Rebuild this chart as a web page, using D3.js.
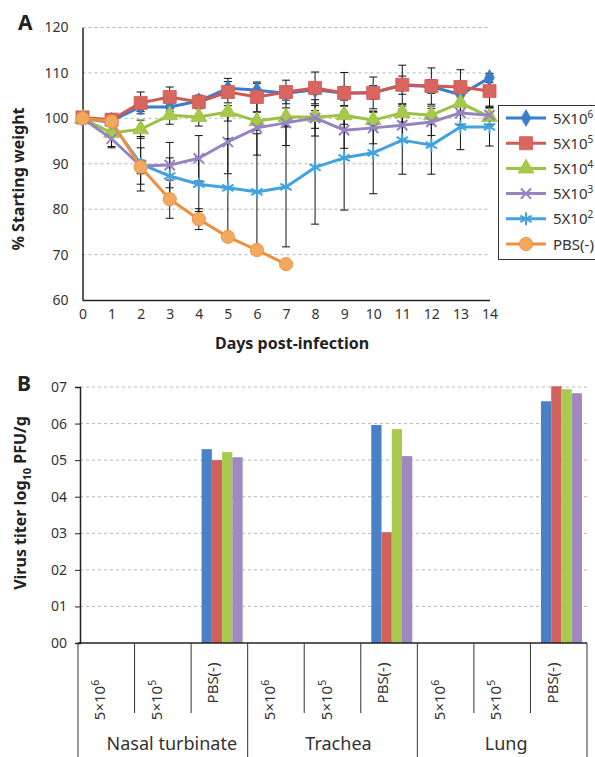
<!DOCTYPE html>
<html><head><meta charset="utf-8">
<script src="https://cdn.jsdelivr.net/npm/d3@7"></script>
<style>
html,body{margin:0;padding:0;background:#fff;}
svg{display:block;font-family:"Noto Sans","Open Sans",sans-serif;}
</style></head>
<body>
<svg id="c" width="595" height="757"></svg>
<script>
// ---------- Panel A data ----------
const days = [0,1,2,3,4,5,6,7,8,9,10,11,12,13,14];
const seriesNames = ["5X10","5X10","5X10","5X10","5X10","PBS(-)"];
const seriesExp = ["6","5","4","3","2",""];
const w5e6 = [100,99.5,102.5,102.5,103.8,106.6,106.2,105.5,106.3,105.5,105.7,107.3,107.0,105.2,108.9];
const w5e5 = [100.2,99.7,103.4,104.7,103.6,105.8,104.7,105.8,106.7,105.6,105.6,107.4,107.1,106.9,106.0];
const w5e4 = [100,96.8,97.6,100.7,100.3,101.4,99.4,100.3,100.3,100.7,99.6,101.2,100.7,103.4,100.3];
const w5e3 = [100,95.5,89.5,89.7,91.2,94.8,97.9,99.0,100.1,97.4,97.9,98.5,99.2,101.2,100.7];
const w5e2 = [100,99.0,90.0,87.3,85.5,84.7,83.8,84.9,89.2,91.3,92.4,95.2,94.1,98.1,98.1];
const wPBS = [100,99.3,89.3,82.2,77.8,73.9,71.0,67.9];
const e5e6 = [0.5,1,1,1,1,1.5,1.5,1,1,1.5,1.5,2,1.5,1.5,1];
const e5e5 = [0.5,1,2.4,2.2,1.5,3,3.3,2.6,3.5,4.5,3.5,4.3,4,3.8,3.5];
const e5e4 = [0,3,2,2,2,2,2,2,2.5,2,2,2,2,2,2];
const e5e3 = [0,2,4,5,5,7,6,5,4,4,3.5,3.5,3,2.5,2];
const e5e2 = [0,2,6,4,6,10.8,12.8,13.2,12.5,11.5,9,7.5,6.4,5,4.2];
const ePBS = [0,1,1.5,4.2,2.3,0,0,0];
const yTicksA = [60,70,80,90,100,110,120];

// ---------- Panel B data ----------
const tissues = ["Nasal turbinate","Trachea","Lung"];
const groupBase = ["5×10","5×10","PBS(-)"];
const groupExp = ["6","5",""];
const barSeries = ["5X10^6","5X10^5","5X10^4","5X10^3"];
const nasalPBS = [5.30,5.00,5.22,5.08];
const tracheaPBS = [5.96,3.03,5.85,5.11];
const lungPBS = [6.61,7.02,6.94,6.83];
const yTicksB = [0,1,2,3,4,5,6,7];

// ---------- styles ----------
const lineCols = ["#3b7dc8","#cf5a55","#9cc244","#9683c2","#43a3dc","#ef8f3c"];
const markFill = ["#3b7dc8","#d9665e","#a6c94c","#9683c2","#43a3dc","#f2a85e"];
const symTypes = [d3.symbolDiamond,d3.symbolSquare,d3.symbolTriangle,d3.symbolX,d3.symbolAsterisk,d3.symbolCircle];
const symSizes = [80,170,110,70,120,140];
const barCols = ["#4a80c6","#d0615b","#a9c94f","#9e89c1"];

const svg = d3.select("#c");

// ================= Panel A =================
const xA = d3.scaleLinear().domain([0,14]).range([82.5,489.5]);
const yA = d3.scaleLinear().domain([60,120]).range([300,27.5]);
const gA = svg.append("g");

gA.selectAll("line.grid").data(yTicksA.filter(d=>d>60)).join("line")
  .attr("x1",xA(0)).attr("x2",xA(14)).attr("y1",d=>yA(d)).attr("y2",d=>yA(d))
  .attr("stroke","#b8b8b8").attr("stroke-width",1).attr("stroke-dasharray","3,3");

const axYA = d3.axisLeft(yA).tickValues(yTicksA).tickSize(0).tickPadding(14);
gA.append("g").attr("transform",`translate(${xA(0)},0)`).call(axYA)
  .call(g=>g.select(".domain").attr("stroke","#222").attr("stroke-width",1.5))
  .call(g=>g.selectAll("text").attr("font-size",14).attr("fill","#333").attr("font-family","Noto Sans"));
const axXA = d3.axisBottom(xA).tickValues(days).tickSize(0).tickPadding(9).tickFormat(d3.format("d"));
gA.append("g").attr("transform",`translate(0,${yA(60)})`).call(axXA)
  .call(g=>g.select(".domain").attr("stroke","#222").attr("stroke-width",1.5))
  .call(g=>g.selectAll("text").attr("font-size",14).attr("fill","#333").attr("font-family","Noto Sans"));

const seriesVals = [w5e6,w5e5,w5e4,w5e3,w5e2,wPBS];
const seriesErr = [e5e6,e5e5,e5e4,e5e3,e5e2,ePBS];

// error bars
seriesVals.forEach((vals,si)=>{
  const errs = seriesErr[si];
  const g = gA.append("g").attr("stroke","#111").attr("stroke-width",1);
  vals.forEach((v,i)=>{
    const e = errs[i]; if(!e) return;
    const x = xA(days[i]);
    g.append("line").attr("x1",x).attr("x2",x).attr("y1",yA(v-e)).attr("y2",yA(v+e));
    g.append("line").attr("x1",x-4).attr("x2",x+4).attr("y1",yA(v-e)).attr("y2",yA(v-e));
    g.append("line").attr("x1",x-4).attr("x2",x+4).attr("y1",yA(v+e)).attr("y2",yA(v+e));
  });
});

function drawMarker(sel, si){
  const p = d3.symbol().type(symTypes[si]).size(symSizes[si])();
  const stroked = (si===3 || si===4);
  sel.append("path").attr("d",p)
    .attr("fill", stroked ? "none" : markFill[si])
    .attr("stroke", lineCols[si])
    .attr("stroke-width", stroked ? 2 : 1)
    .attr("stroke-opacity", stroked?1:0.8);
}

const line = d3.line().x((d,i)=>xA(days[i])).y(d=>yA(d));
seriesVals.forEach((vals,si)=>{
  gA.append("path").attr("d",line(vals)).attr("fill","none")
    .attr("stroke",lineCols[si]).attr("stroke-width",3).attr("stroke-linejoin","round");
  vals.forEach((v,i)=>{
    const m = gA.append("g").attr("transform",`translate(${xA(days[i])},${yA(v)})`);
    drawMarker(m,si);
  });
});

// legend
const leg = svg.append("g");
leg.append("rect").attr("x",498.5).attr("y",105.5).attr("width",110).attr("height",154)
  .attr("fill","#fff").attr("stroke","#333").attr("stroke-width",1);
seriesNames.forEach((n,si)=>{
  const y = 118 + si*25.2;
  leg.append("line").attr("x1",506).attr("x2",546).attr("y1",y).attr("y2",y)
    .attr("stroke",lineCols[si]).attr("stroke-width",3);
  drawMarker(leg.append("g").attr("transform",`translate(526,${y})`),si);
  const t = leg.append("text").attr("x",553).attr("y",y+5.5).attr("font-size",15).attr("fill","#333");
  t.append("tspan").text(n);
  if(seriesExp[si]) t.append("tspan").attr("dy",-6).attr("font-size",10).text(seriesExp[si]);
});

svg.append("text").attr("x",18).attr("y",30).attr("font-size",21).attr("font-weight","bold")
  .attr("fill","#222").text("A");
svg.append("text").attr("transform","translate(24,179) rotate(-90)").attr("text-anchor","middle")
  .attr("font-size",16).attr("font-weight","bold").attr("fill","#222").text("% Starting weight");
svg.append("text").attr("x",292).attr("y",349).attr("text-anchor","middle")
  .attr("font-size",16).attr("font-weight","bold").attr("fill","#222").text("Days post-infection");

// ================= Panel B =================
const cats = [];
tissues.forEach(t=>groupBase.forEach((g,gi)=>cats.push(t+"|"+gi)));
const xB = d3.scaleBand().domain(cats).range([78,587]).paddingInner(0).paddingOuter(0);
const yB = d3.scaleLinear().domain([0,7]).range([643,387]);
const gB = svg.append("g");

gB.selectAll("line.grid").data(yTicksB.filter(d=>d>0)).join("line")
  .attr("x1",80).attr("x2",587).attr("y1",d=>yB(d)).attr("y2",d=>yB(d))
  .attr("stroke","#b8b8b8").attr("stroke-width",1).attr("stroke-dasharray","3,3");

const axYB = d3.axisLeft(yB).tickValues(yTicksB).tickSize(5).tickPadding(8).tickFormat(d3.format("02d"));
gB.append("g").attr("transform","translate(80,0)").call(axYB)
  .call(g=>g.select(".domain").attr("stroke","#222").attr("stroke-width",1.5))
  .call(g=>g.selectAll(".tick line").attr("stroke","#222"))
  .call(g=>g.selectAll("text").attr("font-size",14).attr("fill","#333").attr("font-family","Noto Sans"));

// bars
const pbsVals = [nasalPBS,tracheaPBS,lungPBS];
const xInner = d3.scaleBand().domain(barSeries).range([0,41]).padding(0);
pbsVals.forEach((vals,ti)=>{
  const c = tissues[ti]+"|2";
  const x0 = xB(c) + 10.5;
  vals.forEach((v,si)=>{
    gB.append("rect").attr("x",x0+xInner(barSeries[si])).attr("width",xInner.bandwidth())
      .attr("y",yB(v)).attr("height",yB(0)-yB(v)).attr("fill",barCols[si]);
  });
});

// x axis line and category structure
gB.append("line").attr("x1",78).attr("x2",587).attr("y1",643).attr("y2",643)
  .attr("stroke","#222").attr("stroke-width",1.5);
cats.forEach((c,i)=>{
  const x = xB(c);
  const isGroupStart = (i%3===0);
  gB.append("line").attr("x1",x).attr("x2",x).attr("y1",643).attr("y2",isGroupStart?757:713)
    .attr("stroke","#333").attr("stroke-width",1);
});
gB.append("line").attr("x1",587).attr("x2",587).attr("y1",643).attr("y2",757)
  .attr("stroke","#333").attr("stroke-width",1);

cats.forEach((c,i)=>{
  const gi = i%3;
  const cx = xB(c) + xB.bandwidth()/2 - 1;
  const cy = gi===2 ? 683 : 700;
  const t = gB.append("text").attr("transform",`translate(${cx},${cy}) rotate(-90)`)
    .attr("text-anchor","middle").attr("font-size",15).attr("fill","#333");
  t.append("tspan").text(groupBase[gi]);
  if(groupExp[gi]) t.append("tspan").attr("dy",-6).attr("font-size",10.5).text(groupExp[gi]);
});
tissues.forEach((t,ti)=>{
  const x0 = xB(t+"|0");
  const cx = x0 + xB.bandwidth()*1.5 + (ti===0?9:(ti===1?6:4));
  gB.append("text").attr("x",cx).attr("y",750).attr("text-anchor","middle")
    .attr("font-size",18).attr("fill","#333").text(t);
});

svg.append("text").attr("x",17).attr("y",391).attr("font-size",21).attr("font-weight","bold")
  .attr("fill","#222").text("B");
const yl = svg.append("text").attr("transform","translate(26,503) rotate(-90)").attr("text-anchor","middle")
  .attr("font-size",16).attr("font-weight","bold").attr("fill","#222");
yl.append("tspan").text("Virus titer log");
yl.append("tspan").attr("dy",5).attr("font-size",11).text("10");
yl.append("tspan").attr("dy",-5).text(" PFU/g");
</script>
</body></html>
